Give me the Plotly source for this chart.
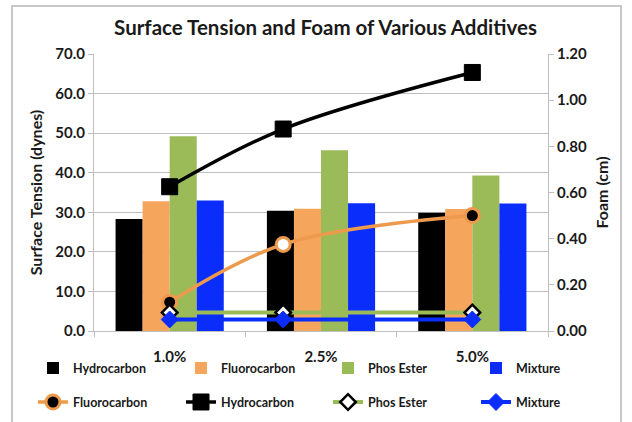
import plotly.graph_objects as go

# ---- data ----
categories = ["1.0%", "2.5%", "5.0%"]
concentration = [1.0, 2.5, 5.0]

st_hydrocarbon = [28.3, 30.4, 29.9]
st_fluorocarbon = [32.8, 30.9, 30.8]
st_phos_ester = [49.2, 45.7, 39.3]
st_mixture = [33.0, 32.3, 32.2]

foam_fluorocarbon = [0.125, 0.375, 0.50]
foam_hydrocarbon = [0.625, 0.875, 1.12]
foam_phos_ester = [0.08, 0.08, 0.08]
foam_mixture = [0.05, 0.05, 0.05]

left_ticks = [0, 10, 20, 30, 40, 50, 60, 70]
right_ticks = [0, 0.2, 0.4, 0.6, 0.8, 1.0, 1.2]

# ---- styles ----
BLACK = "#000000"
ORANGE = "#F5A55C"
ORANGE_LINE = "#EE9A4D"
GREEN = "#9BBB59"
BLUE = "#0B2DFB"
GRID = "#BFBFBF"
TXT = "#1A1A1A"
FONT = "Lato"

W, H = 632, 422
L, R, T, B = 94, 84, 54, 90.5
PW = W - L - R
PH = H - T - B


def px_x(p):
    return (p - L) / PW


def px_y(p):
    return (H - B - p) / PH


fig = go.Figure()

bar_specs = [
    ("Hydrocarbon", st_hydrocarbon, BLACK),
    ("Fluorocarbon", st_fluorocarbon, ORANGE),
    ("Phos Ester", st_phos_ester, GREEN),
    ("Mixture", st_mixture, BLUE),
]
line_specs = [
    ("Fluorocarbon", foam_fluorocarbon, ORANGE_LINE,
     dict(symbol="circle", size=14, color=[BLACK, "white", BLACK],
          line=dict(color=ORANGE_LINE, width=3)), 3.5),
    ("Hydrocarbon", foam_hydrocarbon, BLACK,
     dict(symbol="square", size=16, color=BLACK, line=dict(color=BLACK, width=1)), 3.5),
    ("Phos Ester", foam_phos_ester, GREEN,
     dict(symbol="diamond", size=12, color="white", line=dict(color=BLACK, width=2.5)), 4),
    ("Mixture", foam_mixture, BLUE,
     dict(symbol="diamond", size=13, color=BLUE, line=dict(color=BLUE, width=1)), 4),
]

legend_names = ["legend"] + ["legend%d" % i for i in range(2, 9)]
col_x = [33, 181, 328, 476]
row1_y, row2_y = 369, 403

for i, (name, vals, col) in enumerate(bar_specs):
    fig.add_trace(go.Bar(
        x=categories, y=vals, name=name, marker=dict(color=col, line=dict(width=0)),
        legend=legend_names[i], xaxis="x", yaxis="y",
    ))

for j, (name, vals, col, mk, lw) in enumerate(line_specs):
    fig.add_trace(go.Scatter(
        x=concentration, y=vals, name=name, mode="lines+markers",
        line=dict(color=col, width=lw, shape="spline", smoothing=1),
        marker=mk, legend=legend_names[4 + j], xaxis="x2", yaxis="y2",
    ))

tick_font = dict(family=FONT, size=15, color=TXT, weight="bold")
leg_font = dict(family=FONT, size=12.5, color=TXT, weight="bold")
title_font = dict(family=FONT, size=16, color=TXT, weight="bold")

layout_legends = {}
for k in range(8):
    row_y = row1_y if k < 4 else row2_y
    layout_legends[legend_names[k]] = dict(
        orientation="h", x=px_x(col_x[k % 4]), xanchor="left",
        y=px_y(row_y), yanchor="middle", font=leg_font,
        bgcolor="rgba(0,0,0,0)", borderwidth=0, itemclick=False,
    )

fig.update_layout(
    width=W, height=H,
    margin=dict(l=L, r=R, t=T, b=B, autoexpand=False),
    paper_bgcolor="white", plot_bgcolor="white",
    title=dict(text="Surface Tension and Foam of Various Additives",
               x=0.51, xref="paper", xanchor="center", y=1 - 28 / H, yanchor="middle",
               font=dict(family=FONT, size=20.5, color=TXT, weight="bold")),
    barmode="group", bargap=0.285, bargroupgap=0,
    showlegend=True,
    xaxis=dict(type="category", categoryorder="array", categoryarray=categories,
               showgrid=False, showline=True, linecolor=GRID, linewidth=1,
               ticks="outside", tickson="boundaries", ticklen=5, tickcolor=GRID,
               tickfont=tick_font, ticklabelstandoff=12, range=[-0.5, 2.5]),
    xaxis2=dict(overlaying="x", anchor="y2", range=[0, 6], visible=False),
    yaxis=dict(range=[0, 70], tickvals=left_ticks, tickformat=".1f",
               showgrid=True, gridcolor=GRID, gridwidth=1,
               showline=True, linecolor=GRID, linewidth=1,
               ticks="outside", ticklen=5, tickcolor=GRID, tickfont=tick_font,
               zeroline=False,
               title=dict(text="Surface Tension (dynes)", standoff=8, font=title_font)),
    yaxis2=dict(overlaying="y", side="right", anchor="x", range=[0, 1.2],
                tickvals=right_ticks, tickformat=".2f", showgrid=False,
                showline=True, linecolor=GRID, linewidth=1,
                ticks="outside", ticklen=5, tickcolor=GRID, tickfont=tick_font,
                zeroline=False,
                title=dict(text="Foam (cm)", standoff=10, font=title_font)),
    shapes=[dict(type="rect", xref="paper", yref="paper",
                 x0=px_x(12), x1=px_x(621), y0=px_y(440), y1=px_y(6),
                 line=dict(color="#C8C8C8", width=2), fillcolor="rgba(0,0,0,0)",
                 layer="below")],
    **layout_legends,
)

fig.write_html("out.html",
               config={"displayModeBar": False},
               post_script="document.body.style.margin='0';document.body.style.overflow='hidden';")
